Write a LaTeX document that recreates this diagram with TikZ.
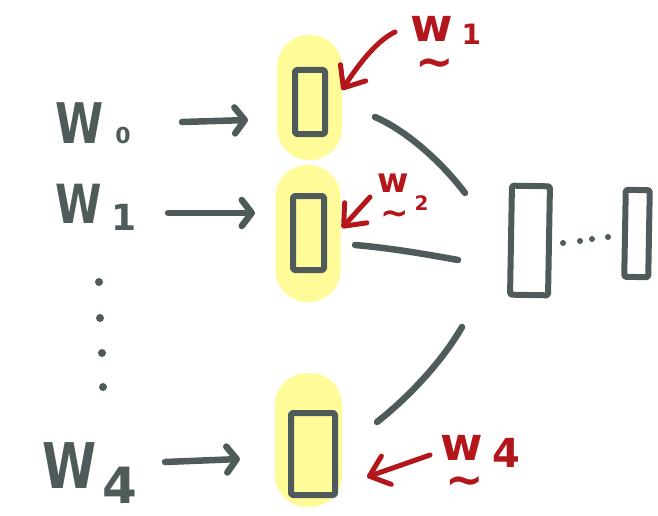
\documentclass[tikz,border=0pt]{standalone}
\usepackage{fontspec}
\setmainfont{DejaVu Sans}
\usetikzlibrary{arrows.meta}
\definecolor{ink}{HTML}{4F5A5A}
\definecolor{pen}{HTML}{B3171C}
\definecolor{hl}{HTML}{FFFB99}
\newcommand{\gW}[1]{\fontsize{#1}{#1}\selectfont\bfseries\scalebox{0.78}[1]{W}}
\newcommand{\tw}[1]{\fontsize{#1}{#1}\selectfont\bfseries w}
\begin{document}
\begin{tikzpicture}[x=1pt,y=-1pt,line cap=round,line join=round,
  pill/.style={fill=hl,rounded corners=32pt,inner sep=0pt,minimum width=65pt},
  boxn/.style={draw=ink,line width=6pt,inner sep=0pt,rounded corners=1.5pt},
  gline/.style={draw=ink,line width=6.5pt},
  garrow/.style={gline,-{Straight Barb[length=10pt,width=26pt,round]}},
  rline/.style={draw=pen,line width=5pt},
  rarrow/.style={rline,-{Straight Barb[length=18pt,width=30pt,round]}},
  glab/.style={text=ink,inner sep=0pt,anchor=base west},
  rlab/.style={text=pen,inner sep=0pt,anchor=base west},
  dotn/.style={fill=ink,circle,inner sep=0pt,minimum size=8pt}]
\useasboundingbox (0,0) rectangle (658,516);

% yellow highlights
\node[pill,minimum height=125pt] (p1) at (309.5,97.5) {};
\node[pill,minimum height=137pt] (p2) at (308,233.5) {};
\node[pill,minimum height=134pt,minimum width=67pt] (p3) at (308.5,440) {};

% input boxes
\node[boxn,minimum width=30pt,minimum height=64pt] (r1) at (310,102) {};
\node[boxn,minimum width=31pt,minimum height=74pt] (r2) at (308.5,233) {};
\node[boxn,minimum width=44pt,minimum height=82pt] (r3) at (313,454) {};

% right boxes
\node[boxn,minimum width=38pt,minimum height=109pt,rotate=-1] (big) at (530,240.5) {};
\node[boxn,minimum width=24pt,minimum height=87pt,rotate=-1] (small) at (637,233.5) {};

% dots between right boxes
\node[dotn,minimum size=6pt] (d1) at (563,243) {};
\node[dotn,minimum size=6pt] (d2) at (580,241) {};
\node[dotn,minimum size=6pt] (d3) at (592,239) {};
\node[dotn,minimum size=6pt] (d4) at (608,237) {};

% left labels
\node[glab] (W0) at (55,143) {\gW{56}\hspace{12pt}{\fontsize{22}{22}\selectfont\bfseries 0}};
\node[glab] (W1) at (55,223) {\gW{54}\hspace{10pt}\raisebox{-7pt}{\fontsize{36}{36}\selectfont\bfseries 1}};
\node[glab] (W4) at (42,488) {\gW{63}\hspace{6pt}\raisebox{-15pt}{\fontsize{50}{50}\selectfont\bfseries 4}};

% vertical dots
\node[dotn] (v1) at (99,282) {};
\node[dotn] (v2) at (100,318) {};
\node[dotn] (v3) at (102,353) {};
\node[dotn] (v4) at (103,387) {};

% gray input arrows
\coordinate (s0) at (182,122); \coordinate (e0) at (248,120);
\coordinate (s1) at (168,213); \coordinate (e1) at (255,213);
\coordinate (s4) at (165,462); \coordinate (e4) at (240,459);
\draw[garrow] (s0) -- (e0);
\draw[garrow] (s1) -- (e1);
\draw[garrow] (s4) -- (e4);

% gray connection lines
\coordinate (a1) at (375,117); \coordinate (b1) at (465,193);
\coordinate (a2) at (355,245); \coordinate (b2) at (458,260);
\coordinate (a3) at (377,422); \coordinate (b3) at (462,327);
\draw[gline] (a1) .. controls (405,130) and (440,160) .. (b1);
\draw[gline] (a2) .. controls (390,248) and (425,254) .. (b2);
\draw[gline] (a3) .. controls (405,400) and (440,365) .. (b3);

% red labels
\node[rlab] (t1) at (410,42) {\tw{46}\makebox[0pt][r]{\raisebox{-36pt}{\makebox[0.8em][c]{\textasciitilde}}}\hspace{9pt}\raisebox{-3pt}{\fontsize{28}{28}\selectfont\bfseries 1}};
\node[rlab] (t2) at (377,192) {\tw{34}\makebox[0pt][r]{\raisebox{-32pt}{\makebox[0.8em][c]{\textasciitilde}}}\hspace{6pt}\raisebox{-18pt}{\fontsize{20}{20}\selectfont\bfseries 2}};
\node[rlab] (t4) at (440,460) {\tw{46}\makebox[0pt][r]{\raisebox{-35pt}{\makebox[0.8em][c]{\textasciitilde}}}\hspace{10pt}\raisebox{-7pt}{\fontsize{40}{40}\selectfont\bfseries 4}};

% red arrows
\coordinate (q1) at (395,32); \coordinate (h1) at (342,90);
\coordinate (q2) at (370,197); \coordinate (h2) at (342,228);
\coordinate (q4) at (430,455); \coordinate (h4) at (367,477);
\draw[rarrow] (q1) .. controls (378,40) and (360,62) .. (h1);
\draw[rarrow] (q2) -- (h2);
\draw[rarrow] (q4) -- (h4);
\end{tikzpicture}
\end{document}
